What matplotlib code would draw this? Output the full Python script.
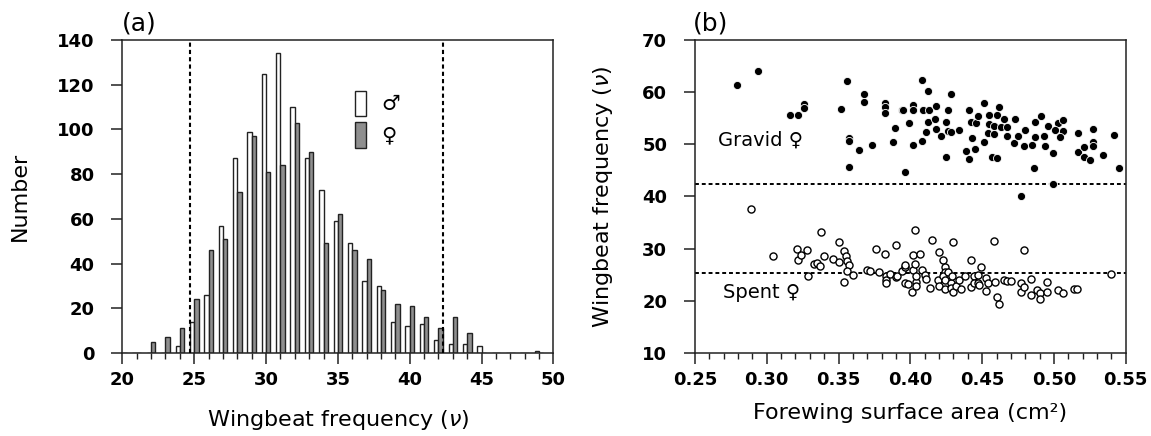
import matplotlib
matplotlib.use("Agg")
import matplotlib.pyplot as plt
from matplotlib.patches import Patch
import numpy as np

plt.rcParams['font.family'] = ['DejaVu Sans']

# ---------------- data ----------------
freq_bins = list(range(20, 50))
male_counts = [0, 0, 0, 0, 3, 14, 26, 57, 87, 99, 125, 134, 110, 87, 73,
               59, 49, 32, 30, 14, 12, 13, 6, 4, 4, 3, 0, 0, 0, 1]
female_counts = [0, 0, 5, 7, 11, 24, 46, 51, 72, 97, 81, 84, 103, 90, 49,
                 62, 46, 42, 28, 22, 21, 16, 11, 16, 9, 0, 0, 0, 0, 0]
hist_cutoffs = [24.7, 42.3]

gravid_area = [0.279, 0.294, 0.316, 0.322, 0.326, 0.326, 0.352, 0.356, 0.357, 0.357,
               0.357, 0.364, 0.368, 0.368, 0.373, 0.382, 0.382, 0.382, 0.389, 0.388,
               0.394, 0.396, 0.395, 0.399, 0.402, 0.402, 0.402, 0.408, 0.412, 0.409,
               0.413, 0.408, 0.411, 0.412, 0.418, 0.417, 0.418, 0.421, 0.426, 0.425,
               0.426, 0.428, 0.428, 0.425, 0.434, 0.441, 0.442, 0.446, 0.447, 0.443,
               0.439, 0.445, 0.441, 0.451, 0.451, 0.455, 0.460, 0.455, 0.458, 0.454,
               0.458, 0.462, 0.465, 0.463, 0.457, 0.460, 0.467, 0.467, 0.473, 0.472,
               0.475, 0.480, 0.479, 0.485, 0.487, 0.491, 0.487, 0.493, 0.494, 0.486,
               0.496, 0.499, 0.503, 0.506, 0.501, 0.506, 0.504, 0.517, 0.517, 0.521,
               0.521, 0.525, 0.527, 0.527, 0.527, 0.534, 0.542, 0.545, 0.499, 0.477]
gravid_freq = [61.4, 64.1, 55.6, 55.6, 57.7, 57.0, 56.7, 62.2, 51.3, 50.6,
               45.7, 48.9, 59.6, 58.2, 49.8, 57.9, 57.2, 56.0, 53.1, 50.5,
               56.6, 44.6, 56.5, 54.1, 57.5, 56.6, 49.8, 62.3, 60.3, 56.5,
               56.6, 50.7, 52.4, 54.2, 57.4, 54.9, 52.9, 51.6, 56.6, 54.2,
               52.6, 52.4, 59.7, 47.5, 52.8, 56.6, 54.2, 54.0, 55.4, 51.2,
               48.7, 49.1, 47.1, 50.5, 57.9, 55.6, 55.7, 53.9, 53.5, 52.1,
               51.9, 57.2, 54.8, 53.4, 47.6, 47.3, 53.3, 51.6, 54.9, 50.2,
               51.6, 52.8, 49.6, 49.9, 54.3, 55.4, 51.4, 51.5, 49.7, 45.5,
               53.5, 48.3, 54.0, 54.7, 52.8, 52.5, 51.4, 52.1, 48.5, 49.4,
               47.5, 47.0, 53.0, 50.4, 49.6, 48.0, 51.8, 45.4, 42.4, 40.0]

spent_area = [0.289, 0.304, 0.321, 0.322, 0.324, 0.328, 0.329, 0.333, 0.335, 0.337,
              0.338, 0.340, 0.346, 0.350, 0.350, 0.354, 0.355, 0.356, 0.357, 0.356,
              0.360, 0.354, 0.370, 0.372, 0.376, 0.378, 0.382, 0.383, 0.383, 0.383,
              0.386, 0.390, 0.390, 0.391, 0.394, 0.396, 0.396, 0.396, 0.398, 0.401,
              0.402, 0.403, 0.402, 0.403, 0.404, 0.404, 0.404, 0.407, 0.408, 0.410,
              0.411, 0.414, 0.415, 0.419, 0.420, 0.420, 0.423, 0.424, 0.424, 0.423,
              0.424, 0.424, 0.426, 0.428, 0.428, 0.429, 0.430, 0.430, 0.432, 0.434,
              0.435, 0.438, 0.442, 0.442, 0.444, 0.444, 0.447, 0.447, 0.448, 0.449,
              0.453, 0.454, 0.453, 0.458, 0.459, 0.460, 0.462, 0.465, 0.467, 0.470,
              0.479, 0.477, 0.477, 0.479, 0.484, 0.484, 0.488, 0.490, 0.490, 0.495,
              0.495, 0.503, 0.506, 0.514, 0.516, 0.540]
spent_freq = [37.6, 28.6, 29.9, 27.9, 28.7, 29.7, 24.8, 27.0, 27.3, 26.7,
              33.2, 28.6, 28.1, 27.5, 31.3, 29.6, 28.6, 27.7, 26.8, 25.7,
              25.0, 23.6, 25.9, 25.7, 29.9, 25.5, 29.0, 24.8, 24.0, 23.4,
              25.2, 30.7, 24.5, 24.7, 25.8, 26.4, 26.8, 23.4, 23.3, 21.6,
              25.9, 27.0, 28.8, 33.5, 23.7, 22.9, 24.7, 29.0, 25.9, 25.0,
              24.2, 22.4, 31.7, 23.9, 22.9, 29.3, 27.9, 26.4, 25.6, 24.8,
              23.9, 22.3, 25.6, 23.4, 22.4, 24.7, 31.2, 21.6, 22.9, 23.9,
              22.2, 24.7, 27.8, 22.6, 24.7, 23.4, 25.0, 23.5, 23.0, 26.5,
              24.3, 23.4, 21.8, 31.4, 23.6, 20.8, 19.4, 24.0, 23.8, 23.8,
              29.8, 23.4, 21.7, 22.6, 24.2, 21.2, 22.1, 21.5, 20.4, 23.6,
              21.6, 22.0, 21.5, 22.2, 22.2, 25.1]
scatter_cutoffs = [42.3, 25.4]

# ---------------- figure ----------------
fig = plt.figure(figsize=(11.51, 4.36), dpi=100)
axA = fig.add_axes([0.1063, 0.1904, 0.3745, 0.7179])
axB = fig.add_axes([0.6038, 0.1904, 0.3743, 0.7179])

tick_font = dict(family='DejaVu Sans', weight='bold', size=13)
label_size = 16

for ax in (axA, axB):
    for s in ax.spines.values():
        s.set_linewidth(1.1)
        s.set_color('#222222')
    ax.tick_params(which='major', direction='out', length=8, width=1.1, colors='#222222',
                   labelcolor='black')
    ax.tick_params(which='minor', direction='out', length=4, width=1.0, colors='#222222')
    ax.tick_params(axis='y', pad=12)
    ax.tick_params(axis='x', pad=5)

# ---- panel (a) ----
bw = 0.3
x = np.array(freq_bins)
axA.bar(x - bw, male_counts, width=bw, align='edge', color='white',
        edgecolor='#222222', linewidth=1.0, zorder=2)
axA.bar(x, female_counts, width=bw, align='edge', color='#8f8f8f',
        edgecolor='#222222', linewidth=1.0, zorder=2)
for c in hist_cutoffs:
    axA.axvline(c, color='black', linestyle=(0, (2, 1.5)), linewidth=1.5, zorder=3)
axA.set_xlim(20, 50)
axA.set_ylim(0, 140)
axA.set_xticks(range(20, 51, 5))
axA.set_xticks(range(20, 51, 1), minor=True)
axA.set_yticks(range(0, 141, 20))
for lab in axA.get_xticklabels() + axA.get_yticklabels():
    lab.set(**tick_font)
axA.set_xlabel('Wingbeat frequency ($\\nu$)', fontsize=label_size)
axA.set_ylabel('Number', fontsize=label_size)
axA.xaxis.set_label_coords(0.5, -0.175)
axA.yaxis.set_label_coords(-0.215, 0.5)
axA.text(0.0, 1.015, '(a)', transform=axA.transAxes, fontsize=18,
         ha='left', va='bottom')
handles = [Patch(facecolor='white', edgecolor='#222222', linewidth=1.0),
           Patch(facecolor='#8f8f8f', edgecolor='#222222', linewidth=1.0)]
axA.legend(handles, ['\u2642', '\u2640'], frameon=False, fontsize=15,
           handlelength=0.55, handleheight=1.5, handletextpad=0.75,
           labelspacing=0.3, loc='upper left', bbox_to_anchor=(0.505, 0.885),
           borderpad=0.2)

# ---- panel (b) ----
axB.scatter(gravid_area, gravid_freq, s=34, facecolor='black',
            edgecolor='white', linewidth=0.6, zorder=3)
axB.scatter(spent_area, spent_freq, s=26, facecolor='white',
            edgecolor='black', linewidth=1.0, zorder=3)
for c in scatter_cutoffs:
    axB.axhline(c, color='black', linestyle=(0, (2, 1.5)), linewidth=1.4, zorder=2)
axB.set_xlim(0.25, 0.55)
axB.set_ylim(10, 70)
axB.set_xticks(np.round(np.arange(0.25, 0.5501, 0.05), 2))
axB.set_xticks(np.round(np.arange(0.25, 0.5501, 0.01), 2), minor=True)
axB.set_xticklabels(['%.2f' % v for v in np.arange(0.25, 0.5501, 0.05)])
axB.set_yticks(range(10, 71, 10))
for lab in axB.get_xticklabels() + axB.get_yticklabels():
    lab.set(**tick_font)
axB.set_xlabel('Forewing surface area (cm\u00b2)', fontsize=label_size)
axB.set_ylabel('Wingbeat frequency ($\\nu$)', fontsize=label_size)
axB.xaxis.set_label_coords(0.5, -0.16)
axB.yaxis.set_label_coords(-0.185, 0.5)
axB.text(-0.005, 1.015, '(b)', transform=axB.transAxes, fontsize=18,
         ha='left', va='bottom')
axB.text(0.2658, 50.8, 'Gravid \u2640', fontsize=14, ha='left', va='center')
axB.text(0.2695, 21.5, 'Spent \u2640', fontsize=14, ha='left', va='center')

fig.savefig('out.png', dpi=100)
